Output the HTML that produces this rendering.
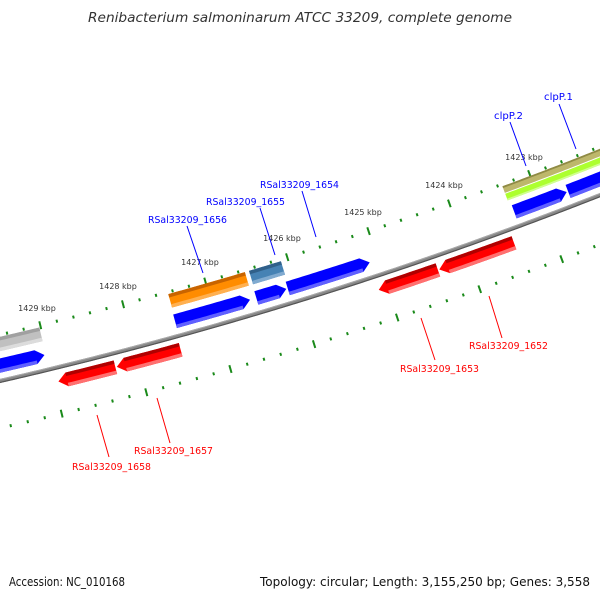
<!DOCTYPE html>
<html><head><meta charset="utf-8"><style>
html,body{margin:0;padding:0;background:#fff;}
svg{display:block;}
text{font-family:"DejaVu Sans","Liberation Sans",sans-serif;}
</style></head><body>
<svg id="s" width="600" height="600" viewBox="0 0 600 600" xmlns="http://www.w3.org/2000/svg">
<rect width="600" height="600" fill="#fff"/>
<g id="g"></g>
<text x="300" y="22" text-anchor="middle" font-style="italic" font-size="13" fill="#333" textLength="424" lengthAdjust="spacingAndGlyphs">Renibacterium salmoninarum ATCC 33209, complete genome</text>
<text x="9" y="586" font-size="12" fill="#111" textLength="116" lengthAdjust="spacingAndGlyphs">Accession: NC_010168</text>
<text x="590" y="586" text-anchor="end" font-size="12" fill="#111" textLength="330" lengthAdjust="spacingAndGlyphs">Topology: circular; Length: 3,155,250 bp; Genes: 3,558</text>
</svg>
<script>
var CX=-937,CY=-3705,D=Math.PI/180;
var g=document.getElementById('g'),NS='http://www.w3.org/2000/svg';
function P(r,a){return [CX+r*Math.cos(a*D),CY+r*Math.sin(a*D)];}
function el(t,at){var e=document.createElementNS(NS,t);for(var k in at)e.setAttribute(k,at[k]);g.appendChild(e);return e;}
function arcPts(r,a1,a2){var p=[],n=Math.max(2,Math.ceil(Math.abs(a2-a1)/0.05));for(var i=0;i<=n;i++){p.push(P(r,a1+(a2-a1)*i/n));}return p;}
function str(p){return p.map(function(q){return q[0].toFixed(2)+','+q[1].toFixed(2);}).join(' ');}
function band(r1,r2,a1,a2,dir,fill){
  var tip=0.12,rm=(r1+r2)/2,p=[];
  var b1=a1,b2=a2;
  if(dir==1)b2=a2+tip; if(dir==-1)b1=a1-tip;
  p=p.concat(arcPts(r1,b1,b2));
  if(dir==1)p.push(P(rm,a2));
  p=p.concat(arcPts(r2,b2,b1));
  if(dir==-1)p.push(P(rm,a1));
  el('polygon',{points:str(p),fill:fill});
}
function gene(r1,r2,a1,a2,dir,c,dark,light){
  band(r1,r2,a1,a2,dir,c);
  var h=(r2-r1);
  var tip=0.12;
  var s1=a1,s2=a2; if(dir==1)s2=a2+tip; if(dir==-1)s1=a1-tip;
  if(dark)el('polygon',{points:str(arcPts(r1,s1,s2).concat(arcPts(r1+h*0.25,s2,s1))),fill:dark});
  if(light)el('polygon',{points:str(arcPts(r2-h*0.25,s1,s2).concat(arcPts(r2,s2,s1))),fill:light});
}
el('polyline',{points:str(arcPts(4192,80,64)),fill:'none',stroke:'#888',"stroke-width":4});
el('polyline',{points:str(arcPts(4193.5,80,64)),fill:'none',stroke:'#555',"stroke-width":1.2});
el('polyline',{points:str(arcPts(4190.5,80,64)),fill:'none',stroke:'#aaa',"stroke-width":1});
function th(k){return 69.29+(k-1423)*1.18;}
for(var i=-20;i<=45;i++){
  var k=1421+i*0.2,a=th(k),maj=(Math.abs(i%5)==0);
  var L=maj?4:1.5;
  [4147,4238].forEach(function(r){
    var p1=P(r-L,a),p2=P(r+L,a);
    el('line',{x1:p1[0],y1:p1[1],x2:p2[0],y2:p2[1],stroke:'#1a8a1a',"stroke-width":2});
  });
}
var tl=[[1429,37,308],[1428,118,286],[1427,200,262],[1426,282,238],[1425,363,212],[1424,444,185],[1423,524,157]];
tl.forEach(function(t){var e=el('text',{x:t[1],y:t[2]+3,"text-anchor":"middle","font-size":"8",fill:"#333"});e.textContent=t[0]+' kbp';});
gene(4149,4163,78,76.39,0,'#c0c0c0','#a0a0a0','#dcdcdc');
gene(4149,4163,74.55,73.45,0,'#ff8c00','#c86400','#ffb050');
gene(4149,4163,73.39,72.93,0,'#4682b4','#30608a','#80aad0');
gene(4149,4156,69.70,66,0,'#bdb76b','#8f8a45',null);
gene(4157,4164,69.70,66,0,'#adff2f',null,'#d0ff90');
gene(4170,4184,78,76.41,1,'#0000ff',null,'#6060ff');
gene(4170,4184,74.56,73.49,1,'#0000ff',null,'#6060ff');
gene(4170,4184,73.40,72.97,1,'#0000ff',null,'#6060ff');
gene(4170,4184,72.95,71.77,1,'#0000ff',null,'#6060ff');
gene(4170,4184,69.67,68.90,1,'#0000ff',null,'#6060ff');
gene(4170,4184,68.88,66,1,'#0000ff',null,'#6060ff');
gene(4199,4213,76.31,75.51,-1,'#ff0000','#b00000','#ff7070');
gene(4199,4213,75.49,74.59,-1,'#ff0000','#b00000','#ff7070');
gene(4199,4213,71.77,70.92,-1,'#ff0000','#b00000','#ff7070');
gene(4199,4213,70.90,69.82,-1,'#ff0000','#b00000','#ff7070');
var lb=[
 ['RSal33209_1656',148,219,187,226,203,273,'#0000ff'],
 ['RSal33209_1655',206,201,260,208,275,255,'#0000ff'],
 ['RSal33209_1654',260,184,302,191,316,237,'#0000ff'],
 ['clpP.2',494,115,510,122,526,166,'#0000ff'],
 ['clpP.1',544,96,559,104,576,149,'#0000ff'],
 ['RSal33209_1658',72,466,97,415,109,457,'#ff0000'],
 ['RSal33209_1657',134,450,157,398,170,443,'#ff0000'],
 ['RSal33209_1653',400,368,421,318,435,360,'#ff0000'],
 ['RSal33209_1652',469,345,489,296,502,338,'#ff0000']
];
lb.forEach(function(l){
  el('line',{x1:l[3],y1:l[4],x2:l[5],y2:l[6],stroke:l[7],"stroke-width":1});
  var w=l[0].length>8?79:29;
  var e=el('text',{x:l[1],y:l[2]+4,"font-size":"10",fill:l[7],textLength:w,lengthAdjust:"spacingAndGlyphs"});
  e.textContent=l[0];
});
</script>
</body></html>
